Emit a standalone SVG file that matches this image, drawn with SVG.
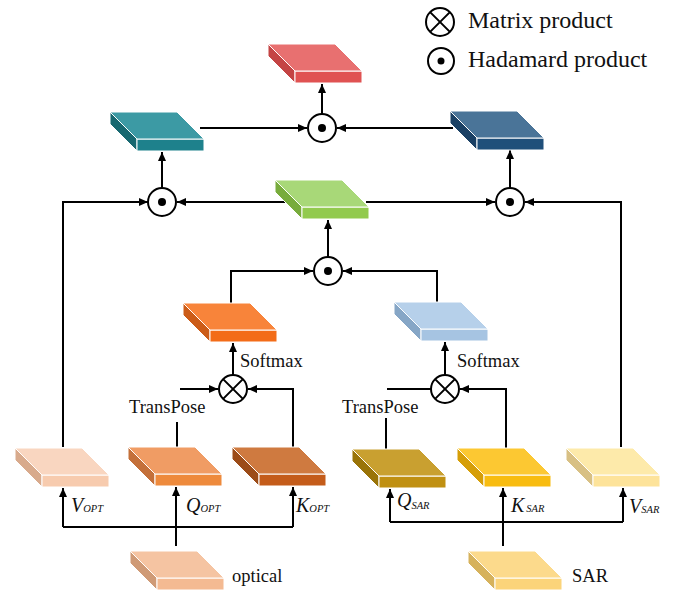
<svg xmlns="http://www.w3.org/2000/svg" width="674" height="590" viewBox="0 0 674 590">
<style>
.bg{fill:#fff}
.f{stroke:#fff;stroke-width:1;stroke-linejoin:round}
.ln{fill:none;stroke:#000;stroke-width:2}
.ar{fill:none;stroke:#000;stroke-width:2;marker-end:url(#ah)}
.op{fill:#fff;stroke:#000;stroke-width:2}
.dot{fill:#000}
.t{font-family:"Liberation Serif","Times New Roman",serif;font-size:18.5px;fill:#111}
.lg{font-family:"Liberation Serif","Times New Roman",serif;font-size:24px;fill:#111}
.m{font-family:"Liberation Serif","Times New Roman",serif;font-size:20px;font-style:italic;fill:#111}
.s{font-size:10.5px}
</style>
<defs>
<marker id="ah" markerUnits="userSpaceOnUse" markerWidth="10" markerHeight="8" refX="9" refY="4" orient="auto">
<path d="M0,0 L9,4 L0,8 z" fill="#000"/>
</marker>
</defs>
<rect class="bg" x="0" y="0" width="674" height="590"/>

<g id="connectors">
<path class="ar" d="M200,128 H307"/>
<path class="ar" d="M453,128 H337"/>
<path class="ar" d="M322,114 V84"/>
<path class="ar" d="M63,447 V202 H148"/>
<path class="ar" d="M287,202 H177"/>
<path class="ar" d="M162,188 V152"/>
<path class="ar" d="M366,202 H495"/>
<path class="ar" d="M621,447 V202 H525"/>
<path class="ar" d="M510,188 V150"/>
<path class="ar" d="M328,257 V220"/>
<path class="ar" d="M231,303 V271 H313"/>
<path class="ar" d="M437,302 V271 H343"/>
<path class="ar" d="M233,375 V343"/>
<path class="ar" d="M180,389 H218"/>
<path class="ar" d="M293,447 V389 H248"/>
<path class="ln" d="M177,422 V447"/>
<path class="ar" d="M445,375 V342"/>
<path class="ln" d="M387,389 H431"/>
<path class="ar" d="M506,448 V389 H460"/>
<path class="ln" d="M386,418 V449"/>
<path class="ar" d="M176,546 V487"/>
<path class="ln" d="M63,527 H293"/>
<path class="ar" d="M63,527 V488"/>
<path class="ar" d="M293,527 V487"/>
<path class="ar" d="M503,546 V488"/>
<path class="ln" d="M390,522 H623"/>
<path class="ar" d="M390,522 V489"/>
<path class="ar" d="M623,522 V488"/>
</g>

<g id="op-top"><circle class="op" cx="322" cy="128" r="14"/><circle class="dot" cx="322" cy="128" r="4"/></g>
<g id="op-left"><circle class="op" cx="162" cy="202" r="14"/><circle class="dot" cx="162" cy="202" r="4"/></g>
<g id="op-right"><circle class="op" cx="510" cy="202" r="14"/><circle class="dot" cx="510" cy="202" r="4"/></g>
<g id="op-mid"><circle class="op" cx="328" cy="271" r="14"/><circle class="dot" cx="328" cy="271" r="4"/></g>
<g id="mat-left"><circle class="op" cx="233" cy="389" r="14"/><path class="ln" d="M223.1,379.1 L242.9,398.9 M242.9,379.1 L223.1,398.9"/></g>
<g id="mat-right"><circle class="op" cx="445" cy="389" r="14"/><path class="ln" d="M435.1,379.1 L454.9,398.9 M454.9,379.1 L435.1,398.9"/></g>

<g id="slab-red" transform="translate(268,44)"><polygon class="f" fill="#c44444" points="0,0 27,27 27,39 0,12"/><rect class="f" fill="#e05252" x="27" y="27" width="67" height="12"/><polygon class="f" fill="#e87070" points="0,0 67,0 94,27 27,27"/></g>
<g id="slab-teal" transform="translate(110,112)"><polygon class="f" fill="#176870" points="0,0 27,27 27,39 0,12"/><rect class="f" fill="#1e818c" x="27" y="27" width="67" height="12"/><polygon class="f" fill="#3c9aa4" points="0,0 67,0 94,27 27,27"/></g>
<g id="slab-darkblue" transform="translate(450,111)"><polygon class="f" fill="#1a4064" points="0,0 27,27 27,39 0,12"/><rect class="f" fill="#1f4f7a" x="27" y="27" width="67" height="12"/><polygon class="f" fill="#4a7498" points="0,0 67,0 94,27 27,27"/></g>
<g id="slab-green" transform="translate(275,180)"><polygon class="f" fill="#78ac3c" points="0,0 27,27 27,39 0,12"/><rect class="f" fill="#92ca4e" x="27" y="27" width="67" height="12"/><polygon class="f" fill="#a8d878" points="0,0 67,0 94,27 27,27"/></g>
<g id="slab-orange" transform="translate(183,303)"><polygon class="f" fill="#cc5c18" points="0,0 27,27 27,39 0,12"/><rect class="f" fill="#f36c18" x="27" y="27" width="67" height="12"/><polygon class="f" fill="#f8843a" points="0,0 67,0 94,27 27,27"/></g>
<g id="slab-lightblue" transform="translate(394,302)"><polygon class="f" fill="#86a6c6" points="0,0 27,27 27,39 0,12"/><rect class="f" fill="#a6c4e2" x="27" y="27" width="67" height="12"/><polygon class="f" fill="#b6d0ea" points="0,0 67,0 94,27 27,27"/></g>
<g id="slab-v-opt" transform="translate(15,448)"><polygon class="f" fill="#d8aa8c" points="0,0 27,27 27,39 0,12"/><rect class="f" fill="#f7cbae" x="27" y="27" width="67" height="12"/><polygon class="f" fill="#f9d6c0" points="0,0 67,0 94,27 27,27"/></g>
<g id="slab-q-opt" transform="translate(128,447)"><polygon class="f" fill="#c4703a" points="0,0 27,27 27,39 0,12"/><rect class="f" fill="#ee8a3c" x="27" y="27" width="67" height="12"/><polygon class="f" fill="#f09c64" points="0,0 67,0 94,27 27,27"/></g>
<g id="slab-k-opt" transform="translate(232,447)"><polygon class="f" fill="#9c4c18" points="0,0 27,27 27,39 0,12"/><rect class="f" fill="#c45c1a" x="27" y="27" width="67" height="12"/><polygon class="f" fill="#cf7a40" points="0,0 67,0 94,27 27,27"/></g>
<g id="slab-optical" transform="translate(130,551)"><polygon class="f" fill="#cf9a76" points="0,0 27,27 27,39 0,12"/><rect class="f" fill="#f4ba92" x="27" y="27" width="67" height="12"/><polygon class="f" fill="#f5c4a2" points="0,0 67,0 94,27 27,27"/></g>
<g id="slab-q-sar" transform="translate(352,449)"><polygon class="f" fill="#9a7408" points="0,0 27,27 27,39 0,12"/><rect class="f" fill="#c09012" x="27" y="27" width="67" height="12"/><polygon class="f" fill="#c9a030" points="0,0 67,0 94,27 27,27"/></g>
<g id="slab-k-sar" transform="translate(457,448)"><polygon class="f" fill="#d69e08" points="0,0 27,27 27,39 0,12"/><rect class="f" fill="#f8bc10" x="27" y="27" width="67" height="12"/><polygon class="f" fill="#fcc832" points="0,0 67,0 94,27 27,27"/></g>
<g id="slab-v-sar" transform="translate(566,448)"><polygon class="f" fill="#d8c084" points="0,0 27,27 27,39 0,12"/><rect class="f" fill="#fde39a" x="27" y="27" width="67" height="12"/><polygon class="f" fill="#fdeaaa" points="0,0 67,0 94,27 27,27"/></g>
<g id="slab-sar" transform="translate(468,551)"><polygon class="f" fill="#d6b25c" points="0,0 27,27 27,39 0,12"/><rect class="f" fill="#fbd47a" x="27" y="27" width="67" height="12"/><polygon class="f" fill="#fcda8c" points="0,0 67,0 94,27 27,27"/></g>

<g id="labels">
<text class="t" x="240" y="367">Softmax</text>
<text class="t" x="457" y="367">Softmax</text>
<text class="t" x="129" y="413">TransPose</text>
<text class="t" x="342" y="413">TransPose</text>
<text class="t" x="232" y="582">optical</text>
<text class="t" x="572" y="582">SAR</text>
<text class="m" x="71" y="512">V<tspan class="s">OPT</tspan></text>
<text class="m" x="186" y="512">Q<tspan class="s">OPT</tspan></text>
<text class="m" x="296" y="512">K<tspan class="s">OPT</tspan></text>
<text class="m" x="397" y="507">Q<tspan class="s" dy="2">SAR</tspan></text>
<text class="m" x="511" y="512">K<tspan class="s" dx="2">SAR</tspan></text>
<text class="m" x="629" y="513">V<tspan class="s">SAR</tspan></text>
</g>

<g id="legend">
<g id="legend-matrix"><circle class="op" cx="440" cy="22" r="14"/><path class="ln" d="M430.1,12.1 L449.9,31.9 M449.9,12.1 L430.1,31.9"/></g>
<g id="legend-hadamard"><circle class="op" cx="441" cy="61" r="13"/><circle class="dot" cx="441" cy="61" r="3.5"/></g>
<text class="lg" x="468" y="28">Matrix product</text>
<text class="lg" x="468" y="67">Hadamard product</text>
</g>
</svg>
